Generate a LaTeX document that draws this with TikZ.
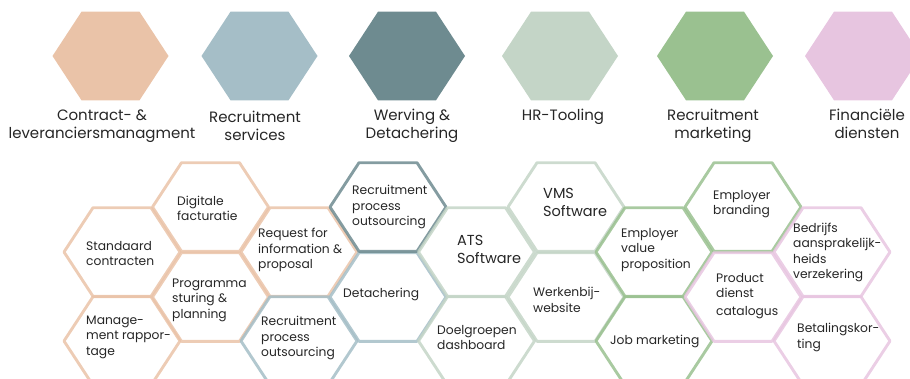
\documentclass[tikz,border=0pt]{standalone}
\usepackage{fontspec}
\setmainfont{Poppins}
\usetikzlibrary{positioning}

\definecolor{peach}{HTML}{EAC3A8}
\definecolor{slate}{HTML}{A5BEC7}
\definecolor{petrol}{HTML}{6E8B90}
\definecolor{sage}{HTML}{C4D5C7}
\definecolor{leaf}{HTML}{9AC190}
\definecolor{lilac}{HTML}{E7C5E0}
\definecolor{ink}{HTML}{262626}

\begin{document}
\begin{tikzpicture}[x=1pt, y=-1pt,
  hexa/.pic={\path[pic actions] (-58,0) -- (-29,-44.3) -- (29,-44.3) -- (58,0) -- (29,44.3) -- (-29,44.3) -- cycle;},
  cell/.style={line width=2.9pt, draw opacity=0.85, line join=round},
  head/.style={align=center, inner sep=0pt, text=ink, font=\fontsize{15}{18}\selectfont},
  txt/.style={anchor=west, align=left, inner sep=0pt, text=ink, font=\fontsize{12.3}{15.5}\selectfont},
  big/.style={txt, font=\fontsize{14.5}{18}\selectfont}]

  \useasboundingbox (0,0) rectangle (910,378);
  \clip (0,0) rectangle (910,378);

  % Top row
  \pic[fill=peach] at (110.5,56) {hexa};
  \pic[fill=slate] at (259.5,56) {hexa};
  \pic[fill=petrol] at (407,56) {hexa};
  \pic[fill=sage] at (560,56) {hexa};
  \pic[fill=leaf] at (715,56) {hexa};
  \pic[fill=lilac] at (863,56) {hexa};

  % Labels
  \node[head] (H1) at (102,126) {Contract- \&\\leveranciersmanagment};
  \node[head] (H2) at (255,126) {Recruitment\\services};
  \node[head] (H3) at (412,126) {Werving \&\\Detachering};
  \node[head] (H4) at (563,117) {HR-Tooling};
  \node[head] (H5) at (713,126) {Recruitment\\marketing};
  \node[head] (H6) at (867,124) {Financiële\\diensten};

  % Contract cells
  \pic[cell, draw=peach] at (122,252) {hexa};
  \pic[cell, draw=peach] at (122,341) {hexa};
  \pic[cell, draw=peach] at (210.5,207) {hexa};
  \pic[cell, draw=peach] at (210.5,297) {hexa};
  \pic[cell, draw=peach] at (299,252) {hexa};

  % Recruitment services cells
  \pic[cell, draw=slate] at (299,341) {hexa};
  \pic[cell, draw=slate] at (388,297) {hexa};

  % Werving cells
  \pic[cell, draw=petrol] at (388,207) {hexa};

  % Tooling cells
  \pic[cell, draw=sage] at (476.5,252) {hexa};
  \pic[cell, draw=sage] at (476.5,341) {hexa};
  \pic[cell, draw=sage] at (566,207) {hexa};
  \pic[cell, draw=sage] at (566,297) {hexa};

  % Marketing cells
  \pic[cell, draw=leaf] at (654,252) {hexa};
  \pic[cell, draw=leaf] at (654,341) {hexa};
  \pic[cell, draw=leaf] at (743,207) {hexa};

  % Finance cells
  \pic[cell, draw=lilac] at (743,297) {hexa};
  \pic[cell, draw=lilac] at (832,252) {hexa};
  \pic[cell, draw=lilac] at (832,341) {hexa};

  % Cell texts
  \node[txt] (C1) at (86,253.5) {Standaard\\contracten};
  \node[txt] (C2) at (86,337) {Manage-\\ment rappor-\\tage};
  \node[txt] (C3) at (177,208.5) {Digitale\\facturatie};
  \node[txt] (C4) at (172,300) {Programma\\sturing \&\\planning};
  \node[txt] (C5) at (258,250) {Request for\\information \&\\proposal};
  \node[txt] (R1) at (261,338) {Recruitment\\process\\outsourcing};
  \node[txt] (R2) at (343,294) {Detachering};
  \node[txt] (W1) at (352,207) {Recruitment\\process\\outsourcing};
  \node[big] (T1) at (457,249) {ATS\\Software};
  \node[big] (T2) at (543,202.5) {VMS\\Software};
  \node[txt] (T3) at (533,300) {Werkenbij-\\website};
  \node[txt] (T4) at (437,337.5) {Doelgroepen\\dashboard};
  \node[txt] (M1) at (621,250) {Employer\\value\\proposition};
  \node[txt] (M2) at (610,341) {Job marketing};
  \node[txt] (M3) at (713,204) {Employer\\branding};
  \node[txt] (F1) at (716,296) {Product\\dienst\\[2pt]catalogus};
  \node[txt] (F2) at (793,252.5) {Bedrijfs\\aansprakelijk-\\heids\\verzekering};
  \node[txt] (F3) at (797,337.5) {Betalingskor-\\ting};

\end{tikzpicture}
\end{document}
